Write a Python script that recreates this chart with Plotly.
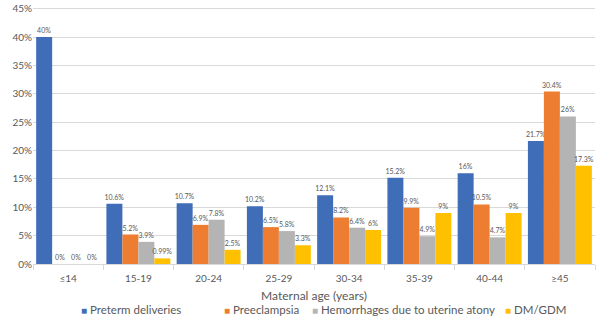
import plotly.graph_objects as go

categories = ["≤14", "15-19", "20-24", "25-29", "30-34", "35-39", "40-44", "≥45"]
preterm = [40, 10.6, 10.7, 10.2, 12.1, 15.2, 16, 21.7]
preeclampsia = [0, 5.2, 6.9, 6.5, 8.2, 9.9, 10.5, 30.4]
hemorrhages = [0, 3.9, 7.8, 5.8, 6.4, 4.9, 4.7, 26]
dm_gdm = [0, 0.99, 2.5, 3.3, 6, 9, 9, 17.3]
y_ticks = [0, 5, 10, 15, 20, 25, 30, 35, 40, 45]

series_names = ["Preterm deliveries", "Preeclampsia", "Hemorrhages due to uterine atony", "DM/GDM"]
series_values = [preterm, preeclampsia, hemorrhages, dm_gdm]
series_colors = ["#3F6DB8", "#ED7D31", "#B4B4B4", "#FFC000"]

FONT = "Lato, 'Open Sans', sans-serif"
GREY = "#595959"
W, H = 603, 320
ML, MR, MT, MB = 33, 8, 7, 56
PW, PH = W - ML - MR, H - MT - MB

fig = go.Figure()
for name, vals, color in zip(series_names, series_values, series_colors):
    fig.add_trace(go.Bar(
        name=name, x=categories, y=vals,
        marker=dict(color=color, line=dict(width=0)),
        text=[f"{v:g}%" for v in vals],
        textposition="outside",
        textfont=dict(size=7, color=GREY, family=FONT),
        cliponaxis=False, showlegend=False,
    ))

# legend drawn as text entries (small coloured squares + names), Excel-like spacing
legend_px = [79, 222, 310, 503]
for name, color, px in zip(series_names, series_colors, legend_px):
    fig.add_annotation(
        xref="paper", yref="paper", x=(px - ML) / PW, y=(H - MB - 309) / PH,
        xanchor="left", yanchor="middle", showarrow=False,
        text=f"<span style='color:{color};font-size:10px'>■</span> {name}",
        font=dict(size=11.5, color=GREY, family=FONT),
    )

fig.update_layout(
    width=W, height=H,
    margin=dict(l=ML, r=MR, t=MT, b=MB, autoexpand=False),
    barmode="group", bargap=0.09, bargroupgap=0,
    plot_bgcolor="white", paper_bgcolor="white",
    font=dict(family=FONT, color=GREY),
    uniformtext=dict(minsize=7, mode="show"),
    xaxis=dict(
        title=dict(text="Maternal age (years)", font=dict(size=12, color=GREY), standoff=8),
        tickfont=dict(size=10, color=GREY), automargin=False, ticklabelstandoff=5,
        showline=True, linecolor="#D9D9D9", linewidth=1,
        ticks="outside", tickson="boundaries", ticklen=5, tickcolor="#D9D9D9",
        showgrid=False,
    ),
    yaxis=dict(
        range=[0, 45.3], tickvals=y_ticks, ticktext=[f"{t}%" for t in y_ticks],
        tickfont=dict(size=10, color=GREY), automargin=False,
        showgrid=True, gridcolor="#D9D9D9", gridwidth=1,
        zeroline=False, showline=False, ticks="",
    ),
)

fig.write_html("out.html", config={"displayModeBar": False},
               post_script="document.body.style.margin='0';")
